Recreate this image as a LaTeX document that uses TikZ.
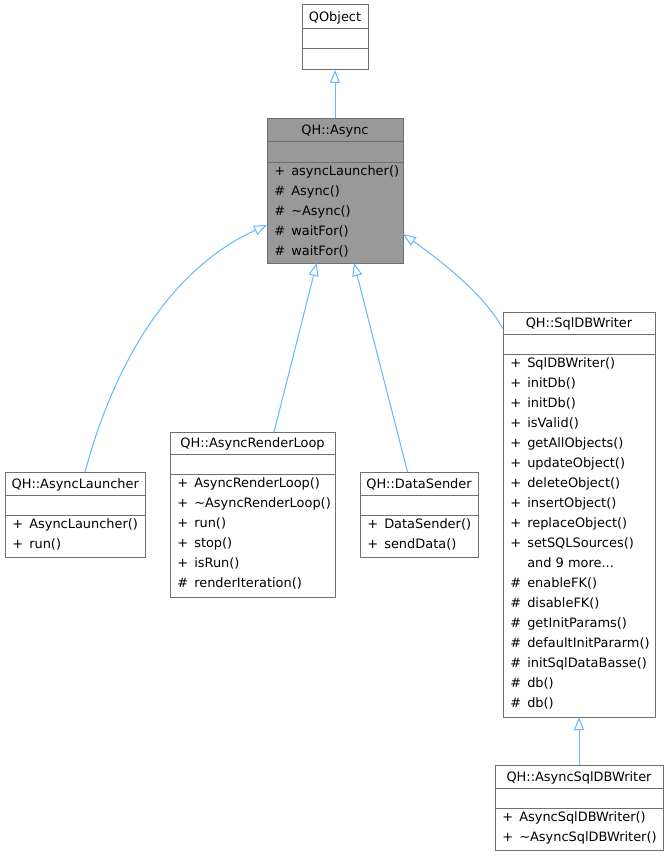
\documentclass[tikz,border=0pt]{standalone}
\usepackage{fontspec}
\setmainfont{DejaVu Sans}
\usetikzlibrary{arrows.meta}
\definecolor{edgeblue}{HTML}{63B8FF}
\definecolor{boxgray}{HTML}{707070}
\definecolor{focusfill}{HTML}{999999}
\newcommand{\umlfont}{\fontsize{9.7}{15}\selectfont}
\newcommand{\threedots}{...}
\tikzset{
  classbox/.style={draw=boxgray, line width=0.75pt, inner sep=0pt, outer sep=0pt},
  sepline/.style={draw=boxgray, line width=0.75pt},
  titletext/.style={inner sep=0pt, anchor=base, font=\umlfont},
  membertext/.style={inner sep=0pt, anchor=base west, font=\umlfont},
  inherit/.style={draw=edgeblue, line width=0.75pt, {Triangle[open, length=9.75pt, width=7.5pt]}-},
}
% name, x1, y1, x2, y2, sep1, sep2, fill, title
\newcommand{\umlclass}[9]{%
  \node[classbox, fill=#8, minimum width={(#4-#2)*0.75pt}, minimum height={(#5-#3)*0.75pt}] (#1) at ({(#2+#4)/2},{(#3+#5)/2}) {};
  \draw[sepline] (#1.west |- 0,#6) -- (#1.east |- 0,#6) (#1.west |- 0,#7) -- (#1.east |- 0,#7);
  \node[titletext] (#1-title) at ({(#2+#4)/2},{(#3+#6)/2+4.5}) {#9};
}
% name, x, first baseline, list
\newcommand{\umlmembers}[4]{%
  \foreach \s/\t [count=\i] in {#4} {
    \node[membertext] (#1-m\i) at ({#2}, {#3+20*\i-20}) {\makebox[12.75pt][l]{\s}\t};
  }
}
\begin{document}
\begin{tikzpicture}[x=0.75pt, y=-0.75pt]
\fill[white] (0,0) rectangle (669,856);
\useasboundingbox (0,0) rectangle (669,856);

\umlclass{qobject}{302}{5}{368}{70}{29}{49}{white}{QObject}

\umlclass{async}{267}{118}{403}{263}{141.5}{162.5}{focusfill}{QH::Async}
\umlmembers{async}{274}{175.5}{+/asyncLauncher(), \#/Async(), \#/\textasciitilde Async(), \#/waitFor(), \#/waitFor()}

\umlclass{asynclauncher}{5}{472}{145.5}{557}{495}{515}{white}{QH::AsyncLauncher}
\umlmembers{asynclauncher}{12}{528}{+/AsyncLauncher(), +/run()}

\umlclass{asyncrenderloop}{170}{432}{335}{597}{454.5}{474.5}{white}{QH::AsyncRenderLoop}
\umlmembers{asyncrenderloop}{177}{487.5}{+/AsyncRenderLoop(), +/\textasciitilde AsyncRenderLoop(), +/run(), +/stop(), +/isRun(), \#/renderIteration()}

\umlclass{datasender}{360}{472}{478}{557}{495}{515}{white}{QH::DataSender}
\umlmembers{datasender}{367}{528}{+/DataSender(), +/sendData()}

\umlclass{sqldbwriter}{503}{312}{655}{717}{334.5}{354.5}{white}{QH::SqlDBWriter}
\umlmembers{sqldbwriter}{510}{367.5}{+/SqlDBWriter(), +/initDb(), +/initDb(), +/isValid(), +/getAllObjects(), +/updateObject(), +/deleteObject(), +/insertObject(), +/replaceObject(), +/setSQLSources(), {}/and 9 more\threedots, \#/enableFK(), \#/disableFK(), \#/getInitParams(), \#/defaultInitPararm(), \#/initSqlDataBasse(), \#/db(), \#/db()}

\umlclass{asyncsqldbwriter}{495}{765}{663}{850}{788}{808}{white}{QH::AsyncSqlDBWriter}
\umlmembers{asyncsqldbwriter}{502}{821}{+/AsyncSqlDBWriter(), +/\textasciitilde AsyncSqlDBWriter()}

\draw[inherit] (qobject.south) -- (async.north);
\draw[inherit] (async.west |- 0,225) .. controls (172,268) and (115,360) .. (asynclauncher.north -| 85,0);
\draw[inherit] (async.south -| 316.7,0) -- (asyncrenderloop.north -| 274,0);
\draw[inherit] (async.south -| 354,0) -- (datasender.north -| 407.5,0);
\draw[inherit] (async.east |- 0,234) .. controls (440,260) and (485,295) .. (sqldbwriter.west |- 0,329);
\draw[inherit] (sqldbwriter.south) -- (asyncsqldbwriter.north);
\end{tikzpicture}
\end{document}
